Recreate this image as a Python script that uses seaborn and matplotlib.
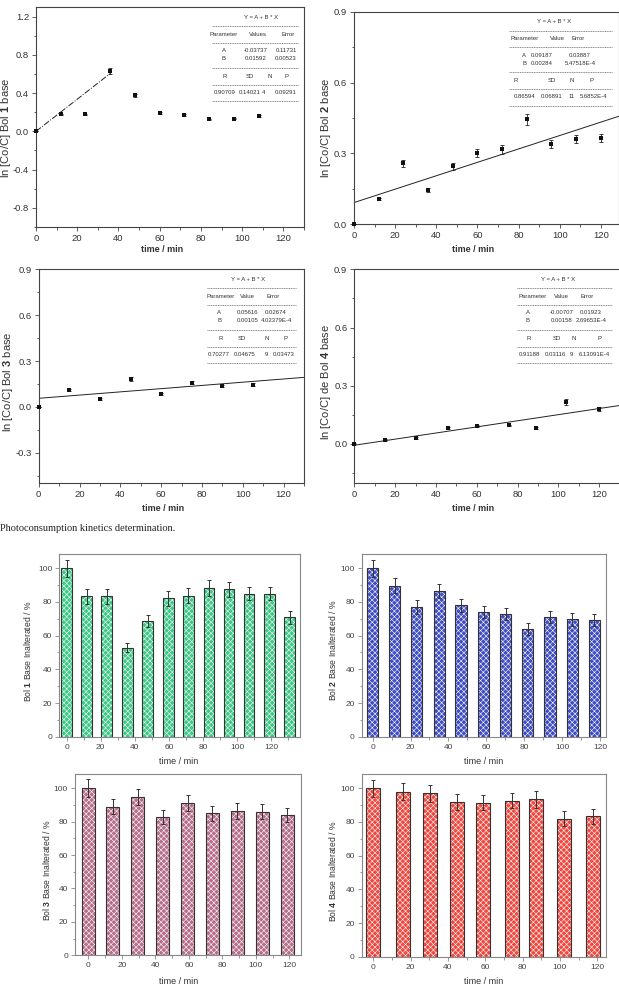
import numpy as np
import matplotlib
matplotlib.use("Agg")
import matplotlib.pyplot as plt
from matplotlib.lines import Line2D
from matplotlib.ticker import MultipleLocator, FuncFormatter
import seaborn as sns

# ---- kinetics data (ln [Co/C] vs time) ----
t1 = [0, 12, 24, 36, 48, 60, 72, 84, 96, 108]
y1 = [0.0, 0.177, 0.177, 0.63, 0.375, 0.195, 0.17, 0.124, 0.131, 0.16]
e1 = [0.0, 0.008, 0.008, 0.03, 0.015, 0.01, 0.008, 0.006, 0.006, 0.008]
fit1_x = [0, 36]
fit1_y = [0.0, 0.605]

t2 = [0, 12, 24, 36, 48, 60, 72, 84, 96, 108, 120]
y2 = [0.0, 0.107, 0.259, 0.144, 0.246, 0.30, 0.317, 0.445, 0.341, 0.362, 0.365]
e2 = [0.0, 0.006, 0.015, 0.008, 0.015, 0.017, 0.018, 0.023, 0.017, 0.018, 0.017]
fit2_x = [0, 129]
fit2_y = [0.092, 0.458]

t3 = [0, 15, 30, 45, 60, 75, 90, 105]
y3 = [0.0, 0.111, 0.05, 0.183, 0.085, 0.159, 0.137, 0.146]
e3 = [0.0, 0.008, 0.005, 0.012, 0.006, 0.01, 0.008, 0.009]
fit3_x = [0, 130]
fit3_y = [0.056, 0.193]

t4 = [0, 15, 30, 46, 60, 76, 89, 104, 120]
y4 = [0.0, 0.02, 0.03, 0.083, 0.092, 0.095, 0.082, 0.215, 0.18]
e4 = [0.003, 0.004, 0.004, 0.005, 0.005, 0.005, 0.005, 0.015, 0.01]
fit4_x = [0, 130]
fit4_y = [-0.007, 0.198]

# ---- fit tables ----
tab_title = "Y = A + B * X"
tab1 = [["Parameter", "Values", "Error"], ["A", "-0.03737", "0.11731"], ["B", "0.01592", "0.00523"],
        ["R", "SD", "N", "P"], ["0.90709", "0.14021", "4", "0.09291"]]
tab2 = [["Parameter", "Value", "Error"], ["A", "0.09187", "0.03887"], ["B", "0.00284", "5.47518E-4"],
        ["R", "SD", "N", "P"], ["0.86594", "0.06891", "11", "5.6852E-4"]]
tab3 = [["Parameter", "Value", "Error"], ["A", "0.05616", "0.02674"], ["B", "0.00105", "4.02379E-4"],
        ["R", "SD", "N", "P"], ["0.70277", "0.04675", "9", "0.03473"]]
tab4 = [["Parameter", "Value", "Error"], ["A", "-0.00707", "0.01923"], ["B", "0.00158", "2.69653E-4"],
        ["R", "SD", "N", "P"], ["0.91188", "0.03116", "9", "6.13091E-4"]]

# ---- unaltered base (%) ----
bar1_t = [0, 11.7, 23.5, 35.6, 47.5, 59.6, 71.3, 83.4, 95.1, 107, 119.1, 130.7]
bar1_v = [100, 83.3, 83.3, 52.8, 68.7, 82.1, 83.7, 88.3, 87.5, 84.9, 84.9, 70.8]
bar1_e = [5, 4.4, 4.4, 2.6, 3.4, 4.2, 4.4, 4.6, 4.4, 4.0, 4.0, 3.6]

bar2_t = [0, 11.6, 23.2, 35.2, 46.6, 58.6, 70.2, 81.8, 93.7, 105.4, 117]
bar2_v = [100, 89.7, 77.0, 86.5, 78.0, 74.0, 72.6, 64.0, 71.0, 69.6, 69.2]
bar2_e = [5, 4.4, 4.0, 4.4, 4.0, 3.6, 3.6, 3.4, 3.4, 3.6, 3.6]

bar3_t = [0, 14.5, 29.5, 44.4, 59.3, 74, 89, 103.9, 118.8]
bar3_v = [100, 89, 94.8, 83, 91.4, 85, 86.4, 86, 84.2]
bar3_e = [5.2, 4.6, 4.6, 4.2, 4.8, 4.4, 4.6, 4.4, 4.2]

bar4_t = [0, 16, 30.5, 45, 59, 74.5, 87.3, 102, 117.7]
bar4_v = [100, 98, 97, 92, 91.5, 92.7, 93.5, 82, 83.4]
bar4_e = [5.1, 5, 5.1, 4.8, 4.6, 4.4, 5, 4.4, 4.4]

sns.set_theme(style="ticks")
plt.rcParams["font.family"] = ["Liberation Sans", "DejaVu Sans"]
plt.rcParams["mathtext.fontset"] = "custom"
plt.rcParams["mathtext.rm"] = "Liberation Sans"
plt.rcParams["mathtext.bf"] = "Liberation Sans:bold"
plt.rcParams["axes.unicode_minus"] = False
plt.rcParams["hatch.linewidth"] = 0.4
plt.rcParams["hatch.color"] = "white"

W, H = 619, 986
fig = plt.figure(figsize=(W / 100, H / 100), dpi=100)


def px_ax(x0, y0, x1, y1):
    return fig.add_axes([x0 / W, 1 - y1 / H, (x1 - x0) / W, (y1 - y0) / H])


def fig_text(x, y, s):
    fig.text(x / W, 1 - y / H, s, ha="center", va="center", fontsize=4.3, color="#333")


def fig_rule(x0, x1, y):
    fig.add_artist(Line2D([x0 / W, x1 / W], [1 - y / H] * 2, transform=fig.transFigure,
                          lw=0.5, ls=(0, (1.5, 1)), color="#555"))


ROWS = [0, 8.8, 16.8, 25.5, 33.5, 41.5, 50.5, 58.7, 67.4, 75.2, 84]


def fit_table(tab, title_xy, span, head_x, ab_x, stat_x, val_x):
    tx, ty = title_xy
    r = [ty + d for d in ROWS]
    fig_text(tx, r[0], tab_title)
    for i in (1, 3, 6, 8, 10):
        fig_rule(span[0], span[1], r[i])
    for s, x in zip(tab[0], head_x):
        fig_text(x, r[2], s)
    for s, x in zip(tab[1], ab_x):
        fig_text(x, r[4], s)
    for s, x in zip(tab[2], ab_x):
        fig_text(x, r[5], s)
    for s, x in zip(tab[3], stat_x):
        fig_text(x, r[7], s)
    for s, x in zip(tab[4], val_x):
        fig_text(x, r[9], s)


def tick_fmt(v, _):
    return f"{round(v, 2) + 0.0:.1f}"


def style_kin(ax, xlim, ylim, ymaj, ymin):
    ax.set_xlim(*xlim)
    ax.set_ylim(*ylim)
    ax.xaxis.set_major_locator(MultipleLocator(20))
    ax.xaxis.set_minor_locator(MultipleLocator(10))
    ax.yaxis.set_major_locator(MultipleLocator(ymaj))
    ax.yaxis.set_minor_locator(MultipleLocator(ymin))
    ax.yaxis.set_major_formatter(FuncFormatter(tick_fmt))
    for sp in ax.spines.values():
        sp.set_visible(True)
        sp.set_color("#444")
        sp.set_linewidth(0.8)
    ax.tick_params(which="both", direction="out", color="#444", width=0.6,
                   labelsize=6.8, labelcolor="#333", pad=2)
    ax.tick_params(which="major", length=3)
    ax.tick_params(which="minor", length=1.8)


def kinetics(ax, t, y, e, fx, fy, ls):
    sns.lineplot(x=fx, y=fy, color="#222", linewidth=0.7, linestyle=ls, ax=ax)
    ax.errorbar(t, y, yerr=e, fmt="none", ecolor="#222", elinewidth=0.6,
                capsize=1.3, capthick=0.6, zorder=3)
    sns.scatterplot(x=t, y=y, marker="s", color="#111", s=8, linewidth=0,
                    zorder=4, clip_on=False, ax=ax)


def style_bar(ax, xlim):
    ax.set_xlim(*xlim)
    ax.set_ylim(0, 108.3)
    ax.xaxis.set_major_locator(MultipleLocator(20))
    ax.xaxis.set_minor_locator(MultipleLocator(10))
    ax.yaxis.set_major_locator(MultipleLocator(20))
    ax.yaxis.set_minor_locator(MultipleLocator(10))
    for sp in ax.spines.values():
        sp.set_visible(True)
        sp.set_color("#888")
        sp.set_linewidth(0.8)
    ax.tick_params(which="both", direction="out", color="#888", width=0.6,
                   labelsize=6, labelcolor="#444", pad=2)
    ax.tick_params(which="major", length=3)
    ax.tick_params(which="minor", length=1.8)


def draw_bars(ax, t, v, e, face, bar_w):
    w = bar_w / np.min(np.diff(t))
    sns.barplot(x=t, y=v, native_scale=True, width=w, color=face, saturation=1,
                edgecolor="white", linewidth=0, hatch="xxxxxx", errorbar=None, ax=ax)
    sns.barplot(x=t, y=v, native_scale=True, width=w, color="#333", fill=False,
                edgecolor="#333", linewidth=0.8, errorbar=None, ax=ax)
    ax.errorbar(t, v, yerr=e, fmt="none", ecolor="#333", elinewidth=0.7,
                capsize=1.5, capthick=0.7, zorder=3)


def labels(ax, xl, yl, xpos, ypos, xsize, ysize, xbold):
    ax.set_xlabel(xl, fontsize=xsize, color="#333", fontweight="bold" if xbold else "normal")
    ax.set_ylabel(yl, fontsize=ysize, color="#333")
    ax.xaxis.set_label_coords(*xpos)
    ax.yaxis.set_label_coords(*ypos)


# ---- top: kinetics panels ----
ax1 = px_ax(36, 7, 304, 227)
kinetics(ax1, t1, y1, e1, fit1_x, fit1_y, "-.")
style_kin(ax1, (0, 130), (-1.0, 1.3), 0.4, 0.2)
labels(ax1, "time / min", r"ln [Co/C] Bol $\mathbf{1}$ base", (0.47, -0.082), (-0.084, 0.45), 6.5, 8, True)
fit_table(tab1, (260.7, 17.3), (212, 298), [224, 258.3, 288.3], [224, 255.3, 286],
          [224.3, 250, 269.3, 286.7], [224.3, 249.3, 263.3, 286])

ax2 = px_ax(354, 11.7, 619.3, 224.3)
kinetics(ax2, t2, y2, e2, fit2_x, fit2_y, "-")
style_kin(ax2, (0, 129), (0, 0.9), 0.3, 0.15)
labels(ax2, "time / min", r"ln [Co/C] Bol $\mathbf{2}$ base", (0.447, -0.097), (-0.081, 0.453), 6.5, 8, True)
fit_table(tab2, (553.7, 21.7), (509.3, 611.7), [524.3, 557, 578.3], [524.3, 541.3, 580],
          [515.3, 552.3, 571.7, 591.7], [524.7, 552, 571.3, 593.8])

ax3 = px_ax(38.7, 269.3, 304, 483.3)
kinetics(ax3, t3, y3, e3, fit3_x, fit3_y, "-")
style_kin(ax3, (0, 130), (-0.5, 0.9), 0.3, 0.15)
labels(ax3, "time / min", r"ln [Co/C] Bol $\mathbf{3}$ base", (0.468, -0.097), (-0.091, 0.475), 6.5, 8, True)
fit_table(tab3, (248.3, 279.3), (206.7, 296), [220.8, 247, 272.8], [219, 247.5, 276],
          [220.7, 242.3, 266.7, 286], [218.3, 244.7, 266.7, 283.8])

ax4 = px_ax(354.3, 269.3, 619.5, 482.7)
kinetics(ax4, t4, y4, e4, fit4_x, fit4_y, "-")
style_kin(ax4, (0, 130), (-0.2, 0.9), 0.3, 0.15)
labels(ax4, "time / min", r"ln [Co/C] de Bol $\mathbf{4}$ base", (0.448, -0.1), (-0.08, 0.47), 6.5, 8, True)
fit_table(tab4, (558, 279.3), (517.3, 611.7), [532.5, 561.7, 587], [527.7, 562, 591],
          [529, 556.7, 573.3, 600], [529, 555, 571.7, 594.2])

fig.text(0.0, 1 - 528.3 / H, "Photoconsumption kinetics determination.", ha="left", va="center",
         fontsize=7.5, family="Liberation Serif", color="#222")

# ---- bottom: unaltered base bars ----
ax5 = px_ax(59.3, 554.3, 300, 736.7)
draw_bars(ax5, bar1_t, bar1_v, bar1_e, "#3cc985", 6.25)
style_bar(ax5, (-4.3, 136.8))
labels(ax5, "time / min", r"Bol $\mathbf{1}$ Base Inalterated / %", (0.494, -0.111), (-0.11, 0.47), 6.5, 6.2, False)

ax6 = px_ax(361.7, 554.3, 606, 736.7)
draw_bars(ax6, bar2_t, bar2_v, bar2_e, "#3f4cc2", 6.0)
style_bar(ax6, (-5.8, 123.2))
labels(ax6, "time / min", r"Bol $\mathbf{2}$ Base Inalterated / %", (0.499, -0.111), (-0.096, 0.475), 6.5, 6.2, False)

ax7 = px_ax(75, 774.3, 300.7, 955.3)
draw_bars(ax7, bar3_t, bar3_v, bar3_e, "#b76d89", 8.0)
style_bar(ax7, (-8.0, 126.8))
labels(ax7, "time / min", r"Bol $\mathbf{3}$ Base Inalterated / %", (0.458, -0.118), (-0.103, 0.47), 6.5, 6.2, False)

ax8 = px_ax(361.7, 774.3, 605.7, 956.7)
draw_bars(ax8, bar4_t, bar4_v, bar4_e, "#f0483f", 7.5)
style_bar(ax8, (-6.2, 124.5))
labels(ax8, "time / min", r"Bol $\mathbf{4}$ Base Inalterated / %", (0.499, -0.11), (-0.096, 0.47), 6.5, 6.2, False)

fig.savefig("out.png", dpi=100)
